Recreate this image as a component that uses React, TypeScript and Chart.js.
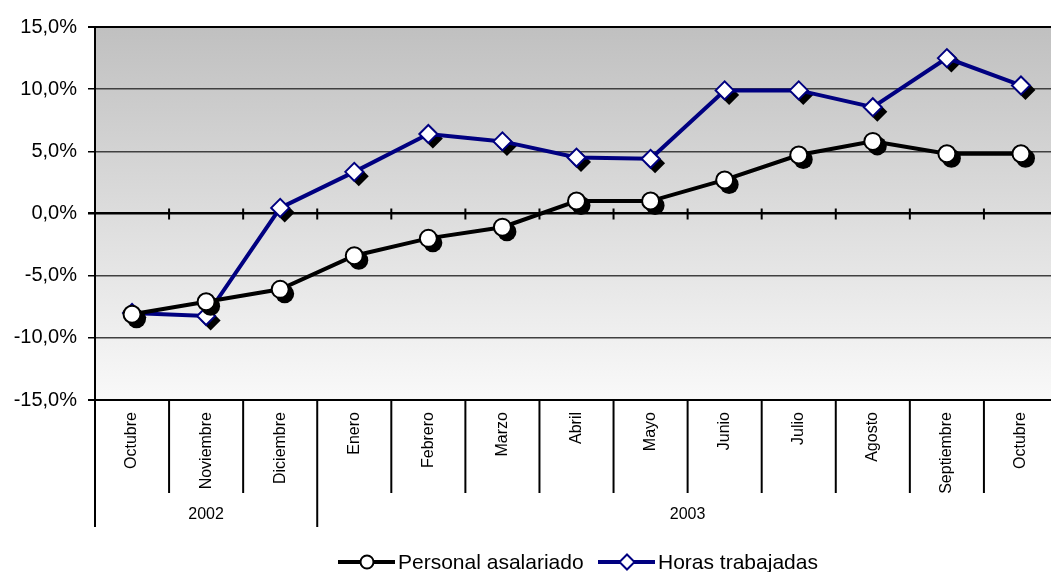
import React, { useEffect, useRef } from "react";
import { Chart, registerables } from "chart.js";

Chart.register(...registerables);

const months = ["Octubre", "Noviembre", "Diciembre", "Enero", "Febrero", "Marzo", "Abril", "Mayo", "Junio", "Julio", "Agosto", "Septiembre", "Octubre"];
const years = [
  { label: "2002", from: 0, to: 2 },
  { label: "2003", from: 3, to: 12 },
];
const personalAsalariado = [-8.1, -7.1, -6.1, -3.4, -2.0, -1.1, 1.0, 1.0, 2.7, 4.7, 5.8, 4.8, 4.8];
const horasTrabajadas = [-8.0, -8.25, 0.45, 3.35, 6.4, 5.8, 4.5, 4.4, 9.9, 9.9, 8.55, 12.5, 10.3];
const yTicks = [15, 10, 5, 0, -5, -10, -15];

const FONT = "'Liberation Sans', Arial, sans-serif";

function drawMarker(ctx: CanvasRenderingContext2D, style: string, x: number, y: number, r: number) {
  ctx.beginPath();
  if (style === "circle") {
    ctx.arc(x, y, r, 0, Math.PI * 2);
  } else {
    ctx.moveTo(x, y - r);
    ctx.lineTo(x + r, y);
    ctx.lineTo(x, y + r);
    ctx.lineTo(x - r, y);
    ctx.closePath();
  }
}

const customPlugin = {
  id: "custom",
  beforeDraw(chart: any) {
    const { ctx, chartArea } = chart;
    const g = ctx.createLinearGradient(0, chartArea.top, 0, chartArea.bottom);
    g.addColorStop(0, "#c0c0c0");
    g.addColorStop(1, "#f9f9f9");
    ctx.save();
    ctx.fillStyle = g;
    ctx.fillRect(chartArea.left, chartArea.top, chartArea.right - chartArea.left, chartArea.bottom - chartArea.top);
    ctx.restore();
  },
  beforeDatasetsDraw(chart: any) {
    const { ctx } = chart;
    const xs = chart.scales.x;
    const ys = chart.scales.y;
    const y0 = ys.getPixelForValue(0);
    const half = (xs.getPixelForValue(1) - xs.getPixelForValue(0)) / 2;
    ctx.save();
    ctx.strokeStyle = "#000";
    ctx.lineWidth = 2;
    for (let i = 0; i < months.length; i++) {
      const bx = xs.getPixelForValue(i) + half;
      ctx.beginPath();
      ctx.moveTo(bx, y0 - 5);
      ctx.lineTo(bx, y0 + 6);
      ctx.stroke();
    }
    ctx.restore();
  },
  beforeDatasetDraw(chart: any, args: any) {
    const { ctx } = chart;
    const meta = chart.getDatasetMeta(args.index);
    const ds = chart.data.datasets[args.index];
    ctx.save();
    ctx.fillStyle = "#000";
    meta.data.forEach((pt: any) => {
      drawMarker(ctx, ds.pointStyle === "circle" ? "circle" : "diamond", pt.x + 4.5, pt.y + 4.5, ds.pointRadius + 1);
      ctx.fill();
    });
    ctx.restore();
  },
  afterDraw(chart: any) {
    const { ctx, chartArea } = chart;
    const xs = chart.scales.x;
    const half = (xs.getPixelForValue(1) - xs.getPixelForValue(0)) / 2;
    const top = chartArea.bottom;
    ctx.save();
    ctx.strokeStyle = "#000";
    ctx.lineWidth = 2;
    // category separators
    for (let i = 0; i <= months.length; i++) {
      const bx = xs.getPixelForValue(i) - half;
      const isYearEdge = years.some((yr) => yr.from === i);
      ctx.beginPath();
      ctx.moveTo(bx, top);
      ctx.lineTo(bx, top + (isYearEdge ? 127 : 93));
      ctx.stroke();
    }
    // year labels
    ctx.fillStyle = "#000";
    ctx.font = `16px ${FONT}`;
    ctx.textAlign = "center";
    ctx.textBaseline = "alphabetic";
    years.forEach((yr) => {
      const cx = (xs.getPixelForValue(yr.from) - half + xs.getPixelForValue(yr.to) + half) / 2;
      ctx.fillText(yr.label, cx, top + 119);
    });
    // legend
    const ly = 562;
    const items = [
      { label: chart.data.datasets[0].label, color: "#000000", style: "circle", x: 338 },
      { label: chart.data.datasets[1].label, color: "#000080", style: "diamond", x: 598 },
    ];
    ctx.font = `21px ${FONT}`;
    ctx.textAlign = "left";
    items.forEach((it) => {
      ctx.strokeStyle = it.color;
      ctx.lineWidth = 4;
      ctx.beginPath();
      ctx.moveTo(it.x, ly);
      ctx.lineTo(it.x + 57, ly);
      ctx.stroke();
      drawMarker(ctx, it.style, it.x + 29, ly, it.style === "circle" ? 6.5 : 7.5);
      ctx.fillStyle = "#fff";
      ctx.fill();
      ctx.lineWidth = 2;
      ctx.stroke();
      ctx.fillStyle = "#000";
      ctx.fillText(it.label, it.x + 60, ly + 7);
    });
    ctx.restore();
  },
};

export default function App() {
  const ref = useRef<HTMLCanvasElement>(null);
  useEffect(() => {
    if (!ref.current) return;
    const chart = new Chart(ref.current, {
      type: "line",
      data: {
        labels: months,
        datasets: [
          {
            label: "Personal asalariado",
            data: personalAsalariado,
            borderColor: "#000000",
            borderWidth: 4,
            pointStyle: "circle",
            pointRadius: 8.5,
            pointBorderWidth: 2,
            pointBackgroundColor: "#ffffff",
            pointBorderColor: "#000000",
            tension: 0,
          },
          {
            label: "Horas trabajadas",
            data: horasTrabajadas,
            borderColor: "#000080",
            borderWidth: 4,
            pointStyle: "rectRot",
            pointRadius: 9,
            pointBorderWidth: 2,
            pointBackgroundColor: "#ffffff",
            pointBorderColor: "#000080",
            tension: 0,
          },
        ],
      },
      options: {
        animation: false,
        responsive: true,
        maintainAspectRatio: false,
        layout: { padding: { top: 27, left: 0, right: 0, bottom: 0 } },
        plugins: { legend: { display: false }, tooltip: { enabled: false } },
        scales: {
          x: {
            offset: true,
            grid: { display: false, drawTicks: false },
            border: { display: false },
            ticks: {
              autoSkip: false,
              minRotation: 90,
              maxRotation: 90,
              padding: 12,
              color: "#000",
              font: { family: FONT, size: 16 },
            },
            afterFit(scale: any) {
              scale.height = 172;
            },
          },
          y: {
            min: -15,
            max: 15,
            afterBuildTicks(scale: any) {
              scale.ticks = yTicks.map((v) => ({ value: v }));
            },
            afterFit(scale: any) {
              scale.width = 95;
            },
            border: { display: true, color: "#000", width: 2 },
            grid: {
              color: (c: any) => {
                const v = c.tick ? c.tick.value : 1;
                return v === 15 || v === 0 || v === -15 ? "#000000" : "#404040";
              },
              lineWidth: (c: any) => {
                const v = c.tick ? c.tick.value : 1;
                if (v === 0) return 2.5;
                if (v === 15 || v === -15) return 2;
                return 1.5;
              },
              tickColor: "#000",
              tickLength: 7,
            },
            ticks: {
              padding: 11,
              color: "#000",
              font: { family: FONT, size: 20 },
              callback: (v: any) => Number(v).toFixed(1).replace(".", ",") + "%",
            },
          },
        },
      },
      plugins: [customPlugin],
    });
    return () => chart.destroy();
  }, []);
  return (
    <div style={{ position: "fixed", left: 0, top: 0, width: 1051, height: 572, overflow: "hidden", background: "#fff" }}>
      <div style={{ position: "relative", width: 1069, height: 572 }}>
        <canvas ref={ref} />
      </div>
    </div>
  );
}
